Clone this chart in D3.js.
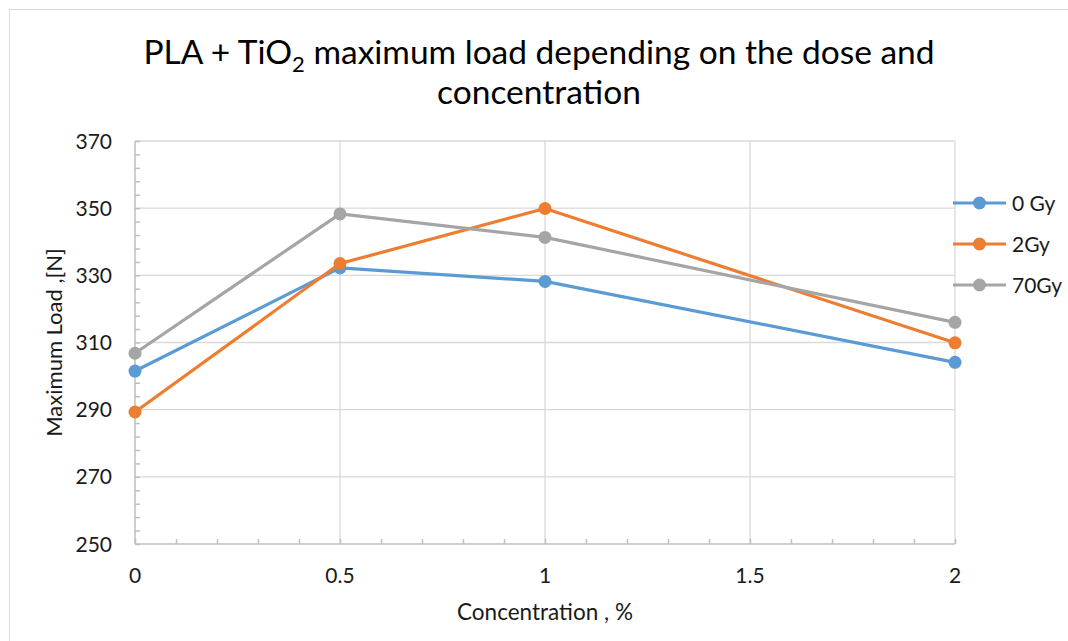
<!DOCTYPE html>
<html>
<head>
<meta charset="utf-8">
<script src="https://cdn.jsdelivr.net/npm/d3@7"></script>
<style>
  body { margin: 0; background: #fff; }
  svg { display: block; }
  text { font-family: Lato, "Open Sans", sans-serif; }
</style>
</head>
<body>
<div id="chart"></div>
<script>
// data
var concentrations = [0, 0.5, 1, 2];
var seriesNames = ['0 Gy', '2Gy', '70Gy'];
var load0Gy = [301.5, 332.2, 328.2, 304.1];
var load2Gy = [289.3, 333.5, 349.9, 309.9];
var load70Gy = [306.8, 348.3, 341.3, 316.0];
var seriesColours = ['#5b9bd5', '#ed7d31', '#a5a5a5'];
var xTicks = [0, 0.5, 1, 1.5, 2];
var yTicks = [250, 270, 290, 310, 330, 350, 370];

var width = 1068, height = 641;
var plotLeft = 135, plotRight = 955, plotTop = 141, plotBottom = 544;
var textColour = '#1a1a1a';

var svg = d3.select('#chart').append('svg')
	.attr('width', width)
	.attr('height', height);

// chart frame
svg.append('rect')
	.attr('x', 9.5).attr('y', 9.5)
	.attr('width', 1070).attr('height', 650)
	.attr('fill', 'white')
	.attr('stroke', '#d9d9d9');

var x = d3.scaleLinear().domain([0, 2]).range([plotLeft, plotRight]);
var y = d3.scaleLinear().domain([250, 370]).range([plotBottom, plotTop]);

// gridlines
var grid = svg.append('g');
grid.selectAll('.hgrid')
	.data(yTicks.slice(1))
	.enter().append('line')
	.attr('x1', plotLeft).attr('x2', plotRight)
	.attr('y1', function (d) { return y(d); })
	.attr('y2', function (d) { return y(d); })
	.attr('stroke', '#d9d9d9')
	.attr('stroke-width', 1.3);
grid.selectAll('.vgrid')
	.data(xTicks.slice(1))
	.enter().append('line')
	.attr('y1', plotTop).attr('y2', plotBottom)
	.attr('x1', function (d) { return x(d); })
	.attr('x2', function (d) { return x(d); })
	.attr('stroke', '#d9d9d9')
	.attr('stroke-width', 1.3);

// axes with inside minor ticks
var yAxis = d3.axisLeft(y)
	.tickValues(d3.range(250, 370.1, 4))
	.tickSize(-5)
	.tickFormat('');
var xAxis = d3.axisBottom(x)
	.tickValues(d3.range(0, 2.01, 0.1))
	.tickSize(-5)
	.tickFormat('');

svg.append('g')
	.attr('transform', 'translate(' + plotLeft + ',0)')
	.call(yAxis)
	.call(function (g) {
		g.selectAll('line, path').attr('stroke', '#bfbfbf').attr('stroke-width', 1.5);
		g.select('.domain').attr('d', 'M0,' + plotTop + 'V' + plotBottom);
	});
svg.append('g')
	.attr('transform', 'translate(0,' + plotBottom + ')')
	.call(xAxis)
	.call(function (g) {
		g.selectAll('line, path').attr('stroke', '#bfbfbf').attr('stroke-width', 1.5);
		g.select('.domain').attr('d', 'M' + plotLeft + ',0H' + plotRight);
	});

// tick labels
svg.selectAll('.ylab')
	.data(yTicks)
	.enter().append('text')
	.attr('x', plotLeft - 23)
	.attr('y', function (d) { return y(d); })
	.attr('dy', '0.36em')
	.attr('text-anchor', 'end')
	.attr('font-size', 21)
	.attr('fill', textColour)
	.text(function (d) { return d; });
svg.selectAll('.xlab')
	.data(xTicks)
	.enter().append('text')
	.attr('x', function (d) { return x(d); })
	.attr('y', 583)
	.attr('text-anchor', 'middle')
	.attr('font-size', 21)
	.attr('fill', textColour)
	.text(function (d) { return d; });

// axis titles
svg.append('text')
	.attr('transform', 'translate(62,' + ((plotTop + plotBottom) / 2) + ') rotate(-90)')
	.attr('text-anchor', 'middle')
	.attr('font-size', 22)
	.attr('fill', textColour)
	.text('Maximum Load ,[N]');
svg.append('text')
	.attr('x', 545)
	.attr('y', 620)
	.attr('text-anchor', 'middle')
	.attr('font-size', 22.5)
	.attr('fill', textColour)
	.text('Concentration , %');

// title
var title = svg.append('text')
	.attr('text-anchor', 'middle')
	.attr('font-size', 33.5)
	.attr('fill', '#000');
var t1 = title.append('tspan').attr('x', 539).attr('y', 64);
t1.append('tspan').text('PLA + TiO');
t1.append('tspan').attr('font-size', 22).attr('dy', 8).text('2');
t1.append('tspan').attr('dy', -8).text(' maximum load depending on the dose and');
title.append('tspan').attr('x', 539).attr('y', 104).text('concentration');

// series
var allSeries = [load0Gy, load2Gy, load70Gy].map(function (vals, i) {
	return {
		name: seriesNames[i],
		colour: seriesColours[i],
		points: vals.map(function (v, j) { return { c: concentrations[j], v: v }; })
	};
});

var line = d3.line()
	.x(function (d) { return x(d.c); })
	.y(function (d) { return y(d.v); });

var groups = svg.selectAll('.series')
	.data(allSeries)
	.enter().append('g')
	.attr('class', 'series');

groups.append('path')
	.attr('d', function (s) { return line(s.points); })
	.attr('fill', 'none')
	.attr('stroke', function (s) { return s.colour; })
	.attr('stroke-width', 3.2)
	.attr('stroke-linejoin', 'round');

groups.selectAll('circle')
	.data(function (s) { return s.points.map(function (p) { return { p: p, colour: s.colour }; }); })
	.enter().append('circle')
	.attr('cx', function (d) { return x(d.p.c); })
	.attr('cy', function (d) { return y(d.p.v); })
	.attr('r', 6.5)
	.attr('fill', function (d) { return d.colour; });

// legend
var legend = svg.selectAll('.legend')
	.data(allSeries)
	.enter().append('g')
	.attr('class', 'legend')
	.attr('transform', function (s, i) { return 'translate(953,' + (203 + i * 41) + ')'; });
legend.append('line')
	.attr('x1', 0).attr('x2', 53)
	.attr('stroke', function (s) { return s.colour; })
	.attr('stroke-width', 3.2);
legend.append('circle')
	.attr('cx', 26.5)
	.attr('r', 6.5)
	.attr('fill', function (s) { return s.colour; });
legend.append('text')
	.attr('x', 59)
	.attr('dy', '0.36em')
	.attr('font-size', 21)
	.attr('fill', textColour)
	.text(function (s) { return s.name; });
</script>
</body>
</html>
